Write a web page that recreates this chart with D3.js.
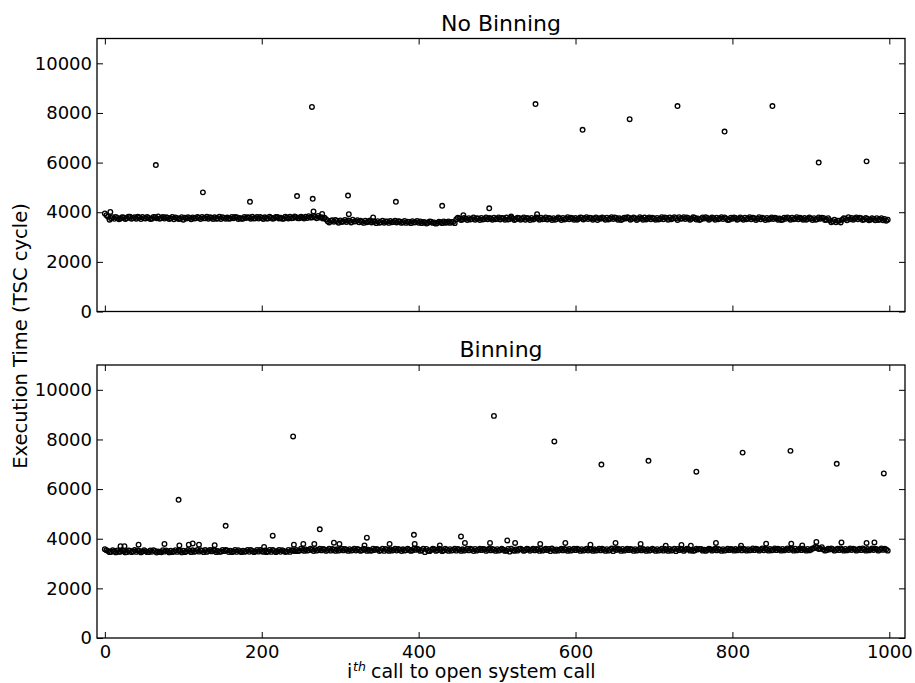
<!DOCTYPE html>
<html>
<head>
<meta charset="utf-8">
<script src="https://d3js.org/d3.v7.min.js"></script>
<style>
  body { margin: 0; background: #fff; }
  text { font-family: "DejaVu Sans", sans-serif; fill: #000; }
</style>
</head>
<body>
<div id="chart"></div>
<script>

// the dense band at every 4th call (0, 4, 8 ...)
// and once more in between (2, 6, 10 ...)
var bandStep = 4;

// No Binning band, calls 0, 4, 8 ... 996
var noBinBand = [
  3950, 3820, 3760, 3735, 3770, 3745, 3790, 3760, 3820, 3765, 3740, 3785, 3810, 3750, 3770, 3735, 3800, 3830, 3765, 3745, 3780, 3755, 3720, 3765, 3740,
  3700, 3745, 3770, 3790, 3755, 3780, 3810, 3760, 3740, 3775, 3795, 3750, 3730, 3770, 3785, 3745, 3760, 3800, 3770, 3740, 3765, 3790, 3815, 3760, 3745,
  3770, 3795, 3750, 3780, 3760, 3805, 3775, 3740, 3790, 3815, 3770, 3800, 3760, 3785, 3820, 3840, 3790, 3810, 3850, 3800, 3780, 3640, 3660, 3620, 3650,
  3670, 3630, 3610, 3650, 3700, 3640, 3600, 3620, 3660, 3630, 3590, 3615, 3640, 3600, 3580, 3625, 3650, 3610, 3590, 3630, 3600, 3570, 3610, 3640, 3595,
  3580, 3560, 3600, 3575, 3620, 3590, 3565, 3600, 3630, 3585, 3570, 3610, 3720, 3750, 3710, 3735, 3760, 3725, 3700, 3745, 3770, 3730, 3715, 3750, 3780,
  3740, 3710, 3760, 3785, 3730, 3750, 3720, 3765, 3740, 3700, 3745, 3770, 3735, 3755, 3780, 3730, 3710, 3750, 3760, 3725, 3745, 3770, 3740, 3720, 3755,
  3765, 3740, 3780, 3750, 3725, 3770, 3745, 3690, 3735, 3760, 3780, 3745, 3730, 3770, 3755, 3720, 3750, 3775, 3740, 3760, 3730, 3755, 3785, 3745, 3720,
  3750, 3770, 3740, 3720, 3765, 3790, 3745, 3760, 3800, 3750, 3730, 3760, 3740, 3775, 3750, 3720, 3745, 3770, 3735, 3760, 3780, 3745, 3725, 3750, 3700,
  3740, 3765, 3730, 3750, 3780, 3745, 3720, 3760, 3740, 3715, 3750, 3770, 3740, 3725, 3760, 3745, 3700, 3735, 3760, 3780, 3740, 3720, 3750, 3765, 3730,
  3745, 3760, 3720, 3740, 3770, 3700, 3680, 3640, 3600, 3660, 3700, 3740, 3800, 3770, 3745, 3720, 3760, 3710, 3740, 3700, 3730, 3760, 3710, 3680, 3660
];

// No Binning band, calls 2, 6, 10 ... 998
var noBinBand2 = [
  3880, 3700, 3800, 3810, 3720, 3800, 3730, 3815, 3740, 3800, 3820, 3725, 3760, 3805, 3730, 3810, 3760, 3740, 3805, 3800, 3725, 3810, 3790, 3730, 3800,
  3780, 3800, 3720, 3745, 3810, 3730, 3755, 3815, 3800, 3730, 3740, 3815, 3800, 3735, 3740, 3810, 3805, 3730, 3740, 3810, 3800, 3740, 3750, 3805, 3810,
  3730, 3750, 3820, 3740, 3810, 3750, 3740, 3820, 3750, 3760, 3830, 3760, 3820, 3745, 3770, 3790, 3850, 3760, 3790, 3750, 3720, 3590, 3680, 3690, 3580,
  3610, 3690, 3670, 3590, 3630, 3680, 3660, 3570, 3600, 3670, 3640, 3560, 3580, 3660, 3630, 3570, 3600, 3660, 3640, 3570, 3650, 3620, 3560, 3590, 3650,
  3630, 3610, 3545, 3630, 3570, 3540, 3620, 3560, 3580, 3630, 3610, 3560, 3780, 3690, 3770, 3690, 3710, 3790, 3760, 3690, 3710, 3790, 3770, 3700, 3720,
  3790, 3770, 3700, 3710, 3790, 3690, 3780, 3700, 3790, 3770, 3690, 3710, 3790, 3700, 3720, 3790, 3770, 3690, 3700, 3790, 3690, 3710, 3800, 3780, 3700,
  3700, 3790, 3710, 3800, 3780, 3700, 3790, 3760, 3790, 3700, 3710, 3800, 3790, 3700, 3690, 3780, 3800, 3700, 3790, 3690, 3800, 3700, 3710, 3790, 3780,
  3700, 3710, 3800, 3790, 3700, 3720, 3800, 3690, 3740, 3800, 3790, 3700, 3800, 3710, 3690, 3790, 3800, 3700, 3790, 3700, 3720, 3800, 3790, 3690, 3780,
  3790, 3700, 3790, 3700, 3720, 3800, 3780, 3690, 3800, 3780, 3690, 3710, 3790, 3780, 3700, 3690, 3780, 3790, 3700, 3720, 3800, 3780, 3700, 3700, 3790,
  3690, 3700, 3790, 3780, 3690, 3760, 3600, 3700, 3660, 3590, 3760, 3680, 3720, 3700, 3790, 3780, 3690, 3770, 3680, 3760, 3680, 3690, 3760, 3730, 3700
];

// No Binning: points standing out of the band
var noBinCalls  = [7, 65, 125, 185, 245, 264, 265, 266, 277, 310, 311, 342, 371, 430, 457, 490, 518, 549, 551, 609, 669, 730, 790, 851, 910, 971];
var noBinValues = [4010, 5900, 4800, 4420, 4650, 8240, 4540, 4030, 3930, 4670, 3920, 3790, 4420, 4260, 3880, 4160, 3830, 8360, 3920, 7320, 7750, 8280, 7250, 8280, 6000, 6050];

// Binning band, calls 0, 4, 8 ... 996
var binBand = [
  3580, 3510, 3470, 3495, 3530, 3480, 3505, 3460, 3520, 3490, 3470, 3510, 3485, 3500, 3460, 3475, 3510, 3490, 3455, 3480, 3500, 3520, 3490, 3470, 3505,
  3520, 3490, 3510, 3535, 3500, 3480, 3520, 3545, 3505, 3490, 3525, 3510, 3480, 3500, 3530, 3515, 3490, 3470, 3500, 3520, 3495, 3475, 3510, 3490, 3480,
  3500, 3525, 3490, 3470, 3510, 3495, 3475, 3505, 3480, 3470, 3530, 3550, 3520, 3545, 3570, 3540, 3560, 3580, 3550, 3530, 3565, 3545, 3520, 3555, 3575,
  3550, 3530, 3560, 3580, 3545, 3525, 3560, 3540, 3570, 3555, 3520, 3545, 3565, 3540, 3510, 3550, 3570, 3545, 3525, 3555, 3575, 3540, 3560, 3530, 3550,
  3570, 3540, 3460, 3520, 3550, 3575, 3540, 3560, 3530, 3555, 3580, 3545, 3520, 3560, 3575, 3550, 3530, 3565, 3590, 3560, 3540, 3575, 3555, 3530, 3560,
  3580, 3550, 3560, 3520, 3480, 3540, 3570, 3590, 3560, 3540, 3575, 3555, 3530, 3565, 3590, 3555, 3540, 3500, 3545, 3570, 3555, 3530, 3560, 3585, 3550,
  3540, 3565, 3580, 3550, 3525, 3560, 3575, 3545, 3530, 3560, 3580, 3550, 3500, 3545, 3570, 3590, 3555, 3540, 3565, 3580, 3550, 3530, 3560, 3575, 3545,
  3560, 3580, 3550, 3520, 3560, 3585, 3550, 3500, 3540, 3570, 3555, 3580, 3560, 3530, 3565, 3590, 3560, 3545, 3575, 3555, 3530, 3560, 3580, 3550, 3540,
  3570, 3585, 3555, 3530, 3565, 3580, 3550, 3540, 3575, 3560, 3535, 3565, 3585, 3555, 3540, 3570, 3590, 3560, 3545, 3575, 3600, 3560, 3540, 3570, 3590,
  3560, 3620, 3650, 3600, 3570, 3540, 3565, 3580, 3555, 3540, 3570, 3590, 3560, 3545, 3575, 3560, 3540, 3570, 3585, 3560, 3545, 3575, 3560, 3550, 3565
];

// Binning band, calls 2, 6, 10 ... 998
var binBand2 = [
  3540, 3460, 3540, 3450, 3470, 3540, 3450, 3530, 3460, 3545, 3530, 3450, 3540, 3460, 3530, 3540, 3445, 3470, 3540, 3530, 3450, 3460, 3540, 3530, 3450,
  3460, 3550, 3460, 3470, 3550, 3540, 3460, 3470, 3550, 3545, 3460, 3470, 3550, 3545, 3465, 3460, 3550, 3540, 3460, 3470, 3550, 3545, 3460, 3550, 3545,
  3470, 3460, 3550, 3545, 3460, 3550, 3540, 3465, 3550, 3540, 3500, 3500, 3600, 3510, 3520, 3600, 3505, 3520, 3600, 3590, 3510, 3600, 3590, 3510, 3520,
  3600, 3590, 3510, 3520, 3600, 3590, 3510, 3600, 3510, 3520, 3600, 3590, 3505, 3600, 3590, 3510, 3520, 3600, 3590, 3505, 3520, 3600, 3510, 3595, 3600,
  3510, 3600, 3590, 3500, 3600, 3510, 3600, 3500, 3600, 3510, 3520, 3600, 3590, 3510, 3520, 3600, 3595, 3505, 3520, 3600, 3590, 3510, 3600, 3590, 3510,
  3520, 3600, 3510, 3590, 3600, 3510, 3520, 3600, 3510, 3600, 3515, 3600, 3590, 3510, 3520, 3600, 3590, 3605, 3510, 3520, 3600, 3590, 3510, 3520, 3600,
  3600, 3510, 3520, 3600, 3590, 3510, 3520, 3600, 3595, 3510, 3520, 3605, 3590, 3600, 3510, 3520, 3600, 3590, 3510, 3520, 3600, 3590, 3510, 3520, 3600,
  3510, 3520, 3600, 3590, 3510, 3520, 3600, 3590, 3600, 3510, 3600, 3520, 3510, 3600, 3590, 3520, 3510, 3600, 3520, 3600, 3590, 3510, 3520, 3600, 3590,
  3520, 3530, 3610, 3600, 3520, 3530, 3610, 3600, 3520, 3610, 3600, 3520, 3530, 3610, 3600, 3520, 3530, 3610, 3600, 3520, 3530, 3610, 3600, 3520, 3530,
  3610, 3680, 3590, 3660, 3520, 3600, 3610, 3520, 3600, 3610, 3520, 3530, 3610, 3600, 3520, 3600, 3610, 3520, 3530, 3610, 3600, 3520, 3610, 3600, 3520
];

// Binning: points standing out of the band
var binCalls  = [20, 25, 43, 76, 94, 95, 107, 112, 120, 140, 154, 203, 214, 240, 241, 253, 267, 274, 292, 299, 331, 334, 363, 394, 395, 427, 454, 459, 491, 496,
                 513, 523, 555, 573, 587, 619, 633, 651, 683, 693, 715, 735, 747, 754, 779, 811, 813, 843, 874, 875, 889, 907, 933, 939, 971, 981, 993];
var binValues = [3700, 3700, 3760, 3790, 5570, 3730, 3760, 3810, 3760, 3740, 4520, 3670, 4120, 8120, 3760, 3790, 3790, 4380, 3840, 3790, 3730, 4040, 3790, 4160, 3790, 3730, 4090, 3830, 3830, 8950,
                 3930, 3830, 3790, 7920, 3830, 3760, 6990, 3830, 3790, 7140, 3720, 3750, 3720, 6700, 3830, 3720, 7470, 3800, 7540, 3800, 3730, 3870, 7020, 3850, 3830, 3850, 6630];

var yTicks = [0, 2000, 4000, 6000, 8000, 10000];
var xTicks = [0, 200, 400, 600, 800, 1000];

var svg = d3.select("#chart")
  .append("svg")
    .attr("width", 915)
    .attr("height", 683);

var x = d3.scaleLinear()
  .domain([-10, 1020])
  .range([97, 905]);

function points(band, band2, calls, values) {
  var pts = [];
  band.forEach(function(v, i) { pts.push([i * bandStep, v]); });
  band2.forEach(function(v, i) { pts.push([i * bandStep + 2, v]); });
  calls.forEach(function(c, i) { pts.push([c, values[i]]); });
  return pts;
}

function drawPanel(top, bottom, title, pts, showXLabels) {
  var y = d3.scaleLinear()
    .domain([0, 11000])
    .range([bottom, top]);

  var g = svg.append("g");

  // open circle markers
  g.append("g")
    .selectAll("circle")
    .data(pts)
    .enter()
    .append("circle")
      .attr("cx", function(d) { return x(d[0]); })
      .attr("cy", function(d) { return y(d[1]); })
      .attr("r", 2.3)
      .attr("fill", "none")
      .attr("stroke", "#000")
      .attr("stroke-width", 1.35);

  // inward ticks on all four sides
  g.append("g")
    .attr("transform", "translate(97,0)")
    .call(d3.axisLeft(y).tickValues(yTicks).tickSize(-6).tickPadding(5).tickFormat(d3.format("d")));
  g.append("g")
    .attr("transform", "translate(905,0)")
    .call(d3.axisRight(y).tickValues(yTicks).tickSize(-6).tickFormat(""));
  g.append("g")
    .attr("transform", "translate(0," + top + ")")
    .call(d3.axisTop(x).tickValues(xTicks).tickSize(-6).tickFormat(""));
  g.append("g")
    .attr("transform", "translate(0," + bottom + ")")
    .call(d3.axisBottom(x).tickValues(xTicks).tickSize(-6).tickPadding(7)
      .tickFormat(showXLabels ? d3.format("d") : ""));

  g.selectAll(".domain").remove();
  g.selectAll(".tick line").attr("stroke", "#000").attr("stroke-width", 1);
  g.selectAll(".tick text")
    .attr("font-size", 18)
    .attr("font-family", "DejaVu Sans")
    .attr("fill", "#000");

  // frame
  g.append("rect")
    .attr("x", 97)
    .attr("y", top)
    .attr("width", 808)
    .attr("height", bottom - top)
    .attr("fill", "none")
    .attr("stroke", "#000")
    .attr("stroke-width", 1.3);

  g.append("text")
    .attr("x", 501)
    .attr("y", top - 8)
    .attr("text-anchor", "middle")
    .attr("font-size", 22)
    .text(title);
}

drawPanel(38.5, 311.5, "No Binning", points(noBinBand, noBinBand2, noBinCalls, noBinValues), false);
drawPanel(365, 638, "Binning", points(binBand, binBand2, binCalls, binValues), true);

// axis labels
svg.append("text")
  .attr("transform", "translate(27,336) rotate(-90)")
  .attr("text-anchor", "middle")
  .attr("font-size", 19.5)
  .text("Execution Time (TSC cycle)");

// x label: "i", superscript "th", then the rest
svg.append("text")
  .attr("x", 347)
  .attr("y", 678.3)
  .attr("font-size", 19)
  .text("i");
svg.append("text")
  .attr("x", 353)
  .attr("y", 671)
  .attr("font-size", 12.5)
  .attr("font-style", "italic")
  .attr("font-family", "DejaVu Serif")
  .text("th");
svg.append("text")
  .attr("x", 371)
  .attr("y", 678.3)
  .attr("font-size", 19)
  .text("call to open system call");

</script>
</body>
</html>
